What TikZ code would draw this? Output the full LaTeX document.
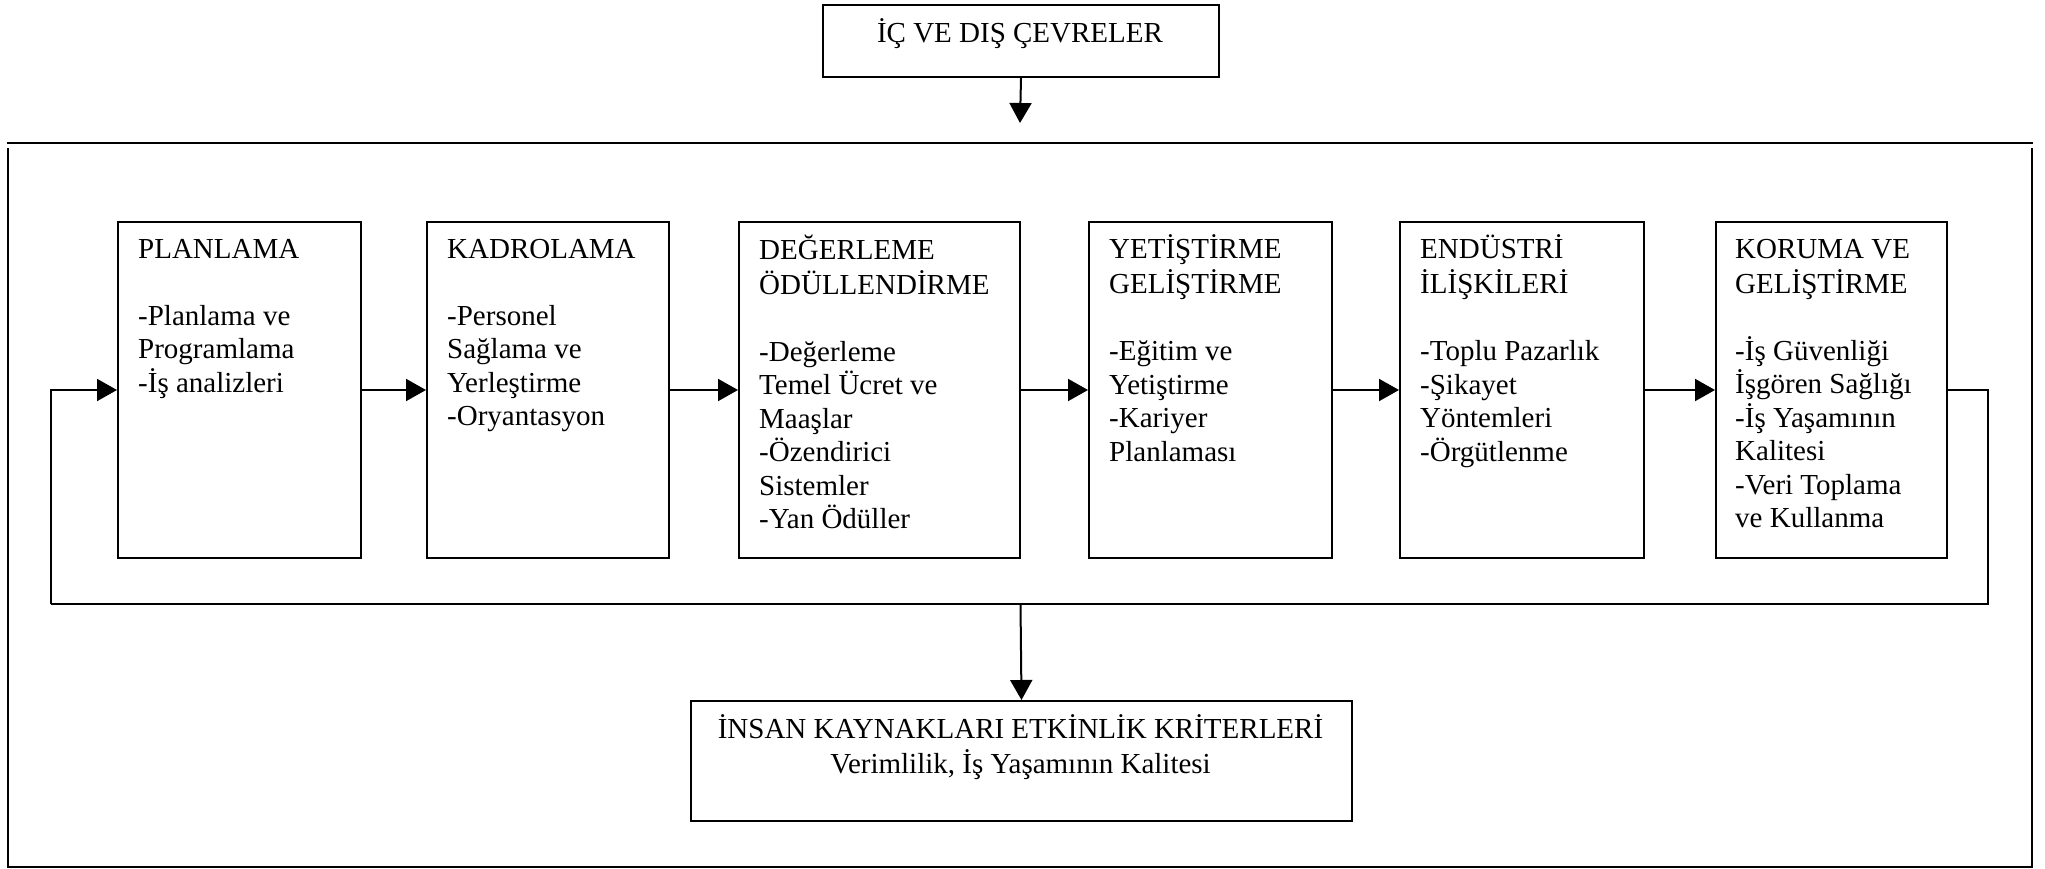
\documentclass[tikz,border=0pt]{standalone}
\usepackage{fontspec}
\setmainfont{Liberation Serif}
\usetikzlibrary{arrows.meta}
\begin{document}
\begin{tikzpicture}[x=1pt,y=-1pt,
  box/.style={draw, line width=2pt, inner sep=0pt, anchor=north west, rectangle},
  txt/.style={anchor=north west, inner sep=0pt, align=left, font=\fontsize{29}{33.5}\selectfont},
  ctxt/.style={anchor=north, inner sep=0pt, align=center, font=\fontsize{29}{33.5}\selectfont},
  wire/.style={line width=2pt},
  conn/.style={line width=2pt, -{Triangle[length=20pt,width=22pt]}}]
\useasboundingbox (0,0) rectangle (2045,869);

% outer frame: top rule and an open-topped enclosure below it
\draw[wire] (7,143) -- (2033,143);
\draw[wire] (8,148) -- (8,867) -- (2032,867) -- (2032,148);

% environment box
\node[box, minimum width=396, minimum height=72] (env) at (822,4) {};
\node[ctxt] (envT) at (1020,18.5) {\strut İÇ VE DIŞ ÇEVRELER};
\coordinate (envTip) at (1020,123);
\draw[conn] (env.south) -- (envTip);

% process boxes
\node[box, minimum width=243, minimum height=336] (plan) at (117,221) {};
\node[box, minimum width=242, minimum height=336] (kadro) at (426,221) {};
\node[box, minimum width=281, minimum height=336] (deger) at (738,221) {};
\node[box, minimum width=243, minimum height=336] (yetis) at (1088,221) {};
\node[box, minimum width=244, minimum height=336] (endus) at (1399,221) {};
\node[box, minimum width=231, minimum height=336] (koruma) at (1715,221) {};

\node[txt] (planT) at (138,234.5) {\strut PLANLAMA\\ \\-Planlama ve\\Programlama\\-İş analizleri};
\node[txt] (kadroT) at (447,234.5) {\strut KADROLAMA\\ \\-Personel\\Sağlama ve\\Yerleştirme\\-Oryantasyon};
\node[txt] (degerT) at (759,234.5) {\strut DEĞERLEME\\ÖDÜLLENDİRME\\ \\-Değerleme\\Temel Ücret ve\\Maaşlar\\-Özendirici\\Sistemler\\-Yan Ödüller};
\node[txt] (yetisT) at (1109,234.5) {\strut YETİŞTİRME\\GELİŞTİRME\\ \\-Eğitim ve\\Yetiştirme\\-Kariyer\\Planlaması};
\node[txt] (endusT) at (1420,234.5) {\strut ENDÜSTRİ\\İLİŞKİLERİ\\ \\-Toplu Pazarlık\\-Şikayet\\Yöntemleri\\-Örgütlenme};
\node[txt] (korumaT) at (1735,234.5) {\strut KORUMA VE\\GELİŞTİRME\\ \\-İş Güvenliği\\İşgören Sağlığı\\-İş Yaşamının\\Kalitesi\\-Veri Toplama\\ve Kullanma};

% flow between the functions
\draw[conn] (plan.east) -- (kadro.west);
\draw[conn] (kadro.east) -- (deger.west);
\draw[conn] (deger.east) -- (yetis.west);
\draw[conn] (yetis.east) -- (endus.west);
\draw[conn] (endus.east) -- (koruma.west);

% feedback loop and effectiveness criteria
\node[box, minimum width=661, minimum height=120] (crit) at (690,700) {};
\node[ctxt] (critT) at (1020.5,714.5) {\strut İNSAN KAYNAKLARI ETKİNLİK KRİTERLERİ\\Verimlilik, İş Yaşamının Kalitesi};

\coordinate (fbR) at (1988,604);
\coordinate (fbL) at (51,604);
\coordinate (fbM) at (1020.5,604);
\draw[wire] (koruma.east) -| (fbR) -- (fbL);
\draw[conn] (fbL) |- (plan.west);
\draw[conn] (fbM) -- (crit.north);
\end{tikzpicture}
\end{document}
